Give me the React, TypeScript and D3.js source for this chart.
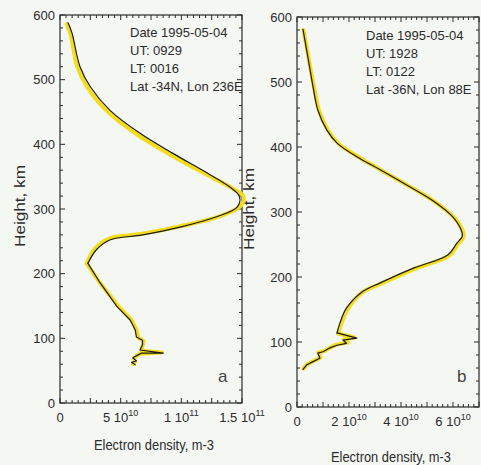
import React, { useEffect, useRef } from "react";
import * as d3 from "d3";

// densities in units of 1e10 m-3, heights in km
const panelABlack: [number, number][] = [
  [0.66, 588], [0.99, 572], [1.65, 520], [2.5, 489], [4.1, 453], [6.6, 417],
  [9.3, 386], [12.1, 356], [14.0, 334], [14.8, 319], [14.6, 303], [12.9, 288],
  [9.9, 272], [6.8, 260], [4.1, 252], [3.0, 237], [2.3, 216], [3.3, 186],
  [4.7, 149], [5.8, 128], [6.2, 113], [6.3, 102], [6.8, 97], [6.8, 90],
  [6.6, 82], [8.5, 77], [6.7, 77], [6.4, 74], [6.0, 70], [6.3, 65], [5.9, 63],
  [6.2, 59],
];
const panelAYellow: [number, number][] = [
  [0.55, 586], [0.9, 568], [1.4, 522], [2.2, 490], [3.8, 453], [6.3, 416],
  [9.1, 384], [12.0, 354], [14.1, 333], [15.1, 320], [14.9, 305], [13.2, 289],
  [10.1, 274], [6.9, 262], [4.0, 254], [2.9, 239], [2.2, 216], [3.2, 188],
  [4.8, 150], [5.9, 128], [6.3, 113], [6.5, 100], [6.9, 96], [6.8, 88],
  [6.7, 81], [8.4, 78], [6.6, 76], [6.3, 73], [6.1, 69], [6.2, 64], [6.0, 60],
];
const panelBBlack: [number, number][] = [
  [0.23, 581], [0.42, 538], [0.62, 492], [0.8, 457], [1.15, 426], [1.54, 406],
  [2.3, 385], [3.2, 365], [4.2, 342], [5.2, 318], [6.0, 292], [6.35, 268],
  [6.35, 262], [6.15, 252], [5.8, 234], [4.5, 214], [3.2, 191], [2.5, 177],
  [1.9, 152], [1.65, 129], [1.54, 114], [2.3, 106], [1.77, 103], [1.9, 98],
  [1.54, 95], [1.27, 91], [1.0, 85], [0.8, 83], [0.88, 75], [0.58, 69],
  [0.38, 65], [0.23, 58],
];
const panelBYellow: [number, number][] = [
  [0.25, 580], [0.45, 536], [0.66, 490], [0.85, 456], [1.2, 425], [1.6, 405],
  [2.35, 385], [3.25, 364], [4.25, 341], [5.25, 317], [6.05, 291], [6.4, 268],
  [6.4, 261], [6.2, 251], [5.85, 233], [4.55, 213], [3.25, 190], [2.5, 176],
  [1.95, 151], [1.7, 128], [1.58, 113], [2.2, 107], [1.8, 104], [1.95, 99],
  [1.5, 96], [1.3, 92], [1.05, 86], [0.82, 84], [0.9, 76], [0.6, 70],
  [0.4, 66], [0.25, 59],
];

const heightTicks = [0, 100, 200, 300, 400, 500, 600];
const panelATicks = [0, 5, 10, 15];
const panelATickLabels = [["0", ""], ["5 10", "10"], ["1 10", "11"], ["1.5 10", "11"]];
const panelBTicks = [0, 2, 4, 6];
const panelBTickLabels = [["0", ""], ["2 10", "10"], ["4 10", "10"], ["6 10", "10"]];

const panelAInfo = ["Date 1995-05-04", "UT: 0929", "LT: 0016", "Lat -34N, Lon 236E"];
const panelBInfo = ["Date 1995-05-04", "UT: 1928", "LT: 0122", "Lat -36N, Lon 88E"];

const width = 481;
const height = 465;
const font = "'Liberation Sans', Arial, sans-serif";
const ink = "#2b2b2b";

export default function App() {
  const svgRef = useRef<SVGSVGElement>(null);

  useEffect(() => {
    const svg = d3.select(svgRef.current);
    svg.selectAll("*").remove();

    svg.append("rect").attr("width", width).attr("height", height).attr("fill", "#f5f7f3");

    const panels = [
      {
        left: 60, right: 242, top: 15, bottom: 403, xMax: 15, minorStep: 0.5, majorStep: 2.5,
        ticks: panelATicks, tickLabels: panelATickLabels, black: panelABlack, yellow: panelAYellow,
        smoothTo: 17, info: panelAInfo, infoX: 130, infoY: 37, letter: "a", letterX: 218, letterY: 382,
        titleX: 25, titleY: 206, labelY: 450,
      },
      {
        left: 297, right: 479, top: 17, bottom: 407, xMax: 7, minorStep: 0.2, majorStep: 1,
        ticks: panelBTicks, tickLabels: panelBTickLabels, black: panelBBlack, yellow: panelBYellow,
        smoothTo: 21, info: panelBInfo, infoX: 366, infoY: 40, letter: "b", letterX: 457, letterY: 382,
        titleX: 254, titleY: 209, labelY: 462,
      },
    ];

    panels.forEach((p) => {
      const x = d3.scaleLinear().domain([0, p.xMax]).range([p.left, p.right]);
      const y = d3.scaleLinear().domain([0, 600]).range([p.bottom, p.top]);
      const g = svg.append("g");

      // frame
      g.append("rect")
        .attr("x", p.left).attr("y", p.top)
        .attr("width", p.right - p.left).attr("height", p.bottom - p.top)
        .attr("fill", "none").attr("stroke", ink).attr("stroke-width", 1.2);

      // inward ticks on all sides
      const xMinor = d3.range(0, p.xMax + 1e-6, p.minorStep);
      const isMajorX = (v: number) => Math.abs(v / p.majorStep - Math.round(v / p.majorStep)) < 1e-6;
      xMinor.forEach((v) => {
        const len = isMajorX(v) ? 5 : 3;
        g.append("line").attr("x1", x(v)).attr("x2", x(v))
          .attr("y1", p.bottom).attr("y2", p.bottom - len).attr("stroke", ink);
        g.append("line").attr("x1", x(v)).attr("x2", x(v))
          .attr("y1", p.top).attr("y2", p.top + len).attr("stroke", ink);
      });
      d3.range(0, 601, 20).forEach((v) => {
        const len = v % 100 === 0 ? 5 : 3;
        g.append("line").attr("x1", p.left).attr("x2", p.left + len)
          .attr("y1", y(v)).attr("y2", y(v)).attr("stroke", ink);
        g.append("line").attr("x1", p.right).attr("x2", p.right - len)
          .attr("y1", y(v)).attr("y2", y(v)).attr("stroke", ink);
      });

      // y tick labels
      g.append("g")
        .attr("font-family", font).attr("font-size", 13).attr("fill", ink)
        .attr("text-anchor", "end")
        .selectAll("text").data(heightTicks).join("text")
        .attr("x", p.left - 5).attr("y", (d) => y(d)).attr("dy", "0.35em")
        .text((d) => d);

      // x tick labels with superscript exponent
      const xl = g.append("g")
        .attr("font-family", font).attr("font-size", 13).attr("fill", ink)
        .attr("text-anchor", "middle")
        .selectAll("text").data(p.ticks).join("text")
        .attr("x", (d) => x(d)).attr("y", p.bottom + 19);
      xl.append("tspan").text((d, i) => p.tickLabels[i][0]);
      xl.append("tspan").attr("font-size", 9).attr("dy", -6)
        .text((d, i) => p.tickLabels[i][1]);

      // axis titles
      g.append("text")
        .attr("transform", `translate(${p.titleX},${p.titleY}) rotate(-90)`)
        .attr("text-anchor", "middle").attr("font-family", font)
        .attr("font-size", 14).attr("fill", ink)
        .attr("textLength", 82).attr("lengthAdjust", "spacingAndGlyphs")
        .text("Height, km");
      g.append("text")
        .attr("x", (p.left + p.right) / 2 + 3)
        .attr("y", p.labelY)
        .attr("text-anchor", "middle").attr("font-family", font)
        .attr("font-size", 14).attr("fill", ink)
        .attr("textLength", 120).attr("lengthAdjust", "spacingAndGlyphs")
        .text("Electron density, m-3");

      // info block
      g.append("g")
        .attr("font-family", font).attr("font-size", 13).attr("fill", ink)
        .selectAll("text").data(p.info).join("text")
        .attr("x", p.infoX).attr("y", (d, i) => p.infoY + i * 18)
        .text((d) => d);

      g.append("text")
        .attr("x", p.letterX).attr("y", p.letterY)
        .attr("font-family", font).attr("font-size", 17).attr("fill", "#444")
        .text(p.letter);

      // profiles: smooth topside, straight segments below the bottom of the layer
      const smooth = d3.line<[number, number]>()
        .x((d) => x(d[0])).y((d) => y(d[1]))
        .curve(d3.curveCatmullRom.alpha(0.5));
      const straight = d3.line<[number, number]>()
        .x((d) => x(d[0])).y((d) => y(d[1]));

      const drawProfile = (data: [number, number][], color: string, w: number) => {
        const upper = data.slice(0, p.smoothTo);
        const lower = data.slice(p.smoothTo - 1);
        [smooth(upper), straight(lower)].forEach((d) => {
          g.append("path").attr("d", d).attr("fill", "none")
            .attr("stroke", color).attr("stroke-width", w)
            .attr("stroke-linejoin", "round").attr("stroke-linecap", "round");
        });
      };
      drawProfile(p.yellow, "#f2dc1c", 4);
      drawProfile(p.black, "#1a1a1a", 1.2);
    });
  }, []);

  return (
    <div style={{ position: "absolute", left: 0, top: 0 }}>
      <svg ref={svgRef} width={width} height={height} style={{ display: "block" }}></svg>
    </div>
  );
}
